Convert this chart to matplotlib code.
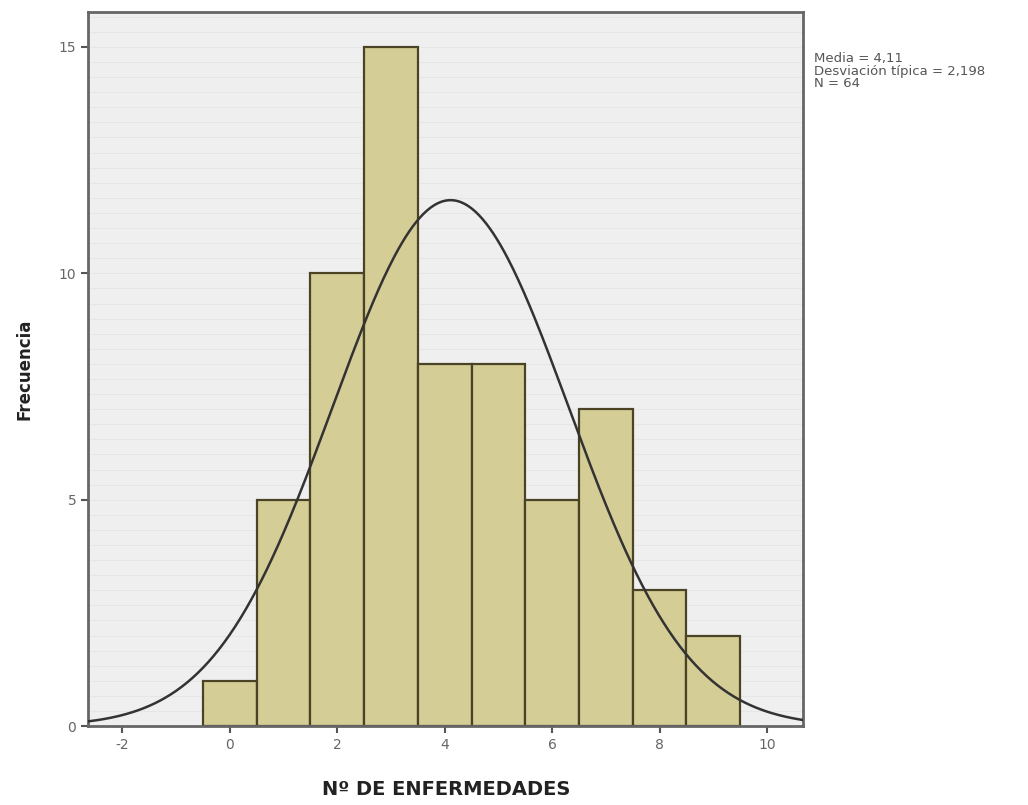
import matplotlib
matplotlib.use("Agg")
import matplotlib.pyplot as plt
import numpy as np

plt.rcParams["axes.unicode_minus"] = False

# ------------------------
# Datos
# ------------------------
enfermedades = [0, 1, 2, 3, 4, 5, 6, 7, 8, 9]
frecuencia = [1, 5, 10, 15, 8, 8, 5, 7, 3, 2]
media = 4.11
desviacion = 2.198
n = 64

x_ticks = [-2, 0, 2, 4, 6, 8, 10]
y_ticks = [0, 5, 10, 15]

# ------------------------
# Figura
# ------------------------
fig = plt.figure(figsize=(10.28, 8.05), dpi=100)
ax = fig.add_axes([0.0856, 0.098, 0.696, 0.887])
ax.set_facecolor("#efefef")

xmin, xmax = -2.64, 10.68
ax.set_xlim(xmin, xmax)
ax.set_ylim(0, 15.77)

# fondo rayado tipo SPSS
for yy in np.arange(1 / 3, 15.77, 1 / 3):
    ax.axhline(yy, color="#e5e5e5", lw=0.6, zorder=0)

ax.bar(enfermedades, frecuencia, width=1.0, color="#d4cd95",
       edgecolor="#4a4326", linewidth=1.6, zorder=2)

# curva normal
xs = np.linspace(xmin, xmax, 400)
ys = n * 1.0 / (desviacion * np.sqrt(2 * np.pi)) * np.exp(-0.5 * ((xs - media) / desviacion) ** 2)
ax.plot(xs, ys, color="#333333", lw=1.8, zorder=3)

ax.set_xticks(x_ticks)
ax.set_yticks(y_ticks)
ax.tick_params(axis="both", direction="out", length=5, width=1.5,
               colors="#555555", labelsize=10, labelcolor="#666666")
for s in ax.spines.values():
    s.set_color("#666666")
    s.set_linewidth(2)

ax.set_xlabel("Nº DE ENFERMEDADES", fontsize=14, fontweight="bold",
              color="#222222", labelpad=20)
ax.set_ylabel("Frecuencia", fontsize=12, fontweight="bold",
              color="#222222", labelpad=18)

fig.text(0.792, 0.935,
         "Media = 4,11\nDesviación típica = 2,198\nN = 64",
         fontsize=9.5, color="#555555", va="top", ha="left", linespacing=0.95)

plt.savefig("out.png", dpi=100)
